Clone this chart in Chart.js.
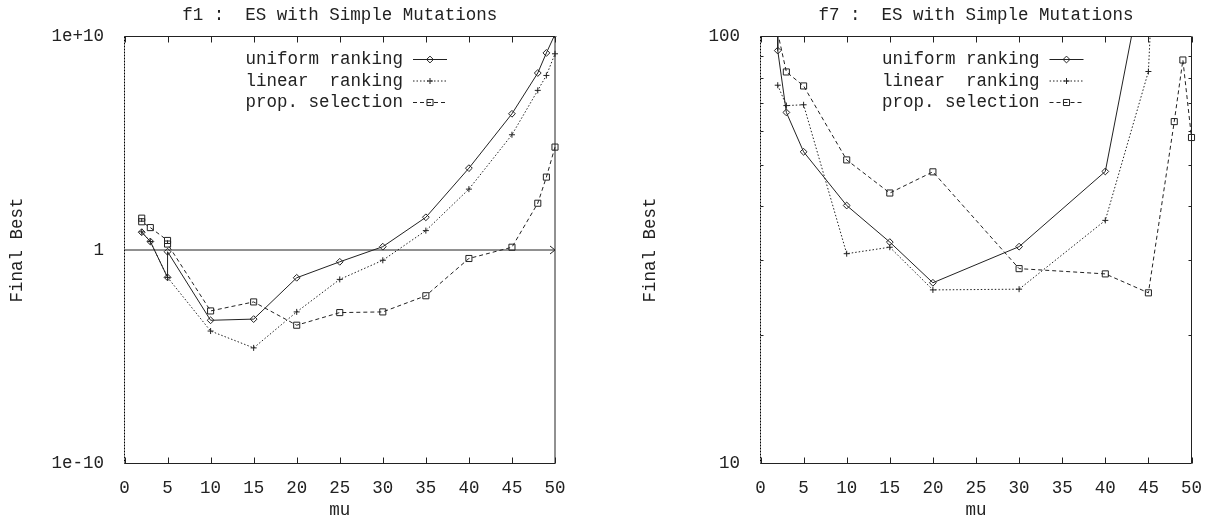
<!DOCTYPE html>
<html>
<head>
<meta charset="utf-8">
<script src="https://cdn.jsdelivr.net/npm/chart.js@4.4.0/dist/chart.umd.min.js"></script>
<style>
  html, body { margin: 0; padding: 0; background: #fff; }
  #wrap { position: relative; width: 1215px; height: 521px; }
  .panel { position: absolute; top: 0; height: 521px; }
</style>
</head>
<body>
<div id="wrap">
  <div class="panel" style="left:0;width:600px"><canvas id="f1" width="600" height="521"></canvas></div>
  <div class="panel" style="left:600px;width:615px"><canvas id="f7" width="615" height="521"></canvas></div>
</div>
<script>
// ── DATA ──
const muTicks = [0, 5, 10, 15, 20, 25, 30, 35, 40, 45, 50];
const f1Ticks = [1e-10, 1, 1e10];
const f1Ref   = [1];
const f7Ticks = [10, 100];
const f7Minor = [20, 30, 40, 50, 60, 70, 80, 90];

const seriesNames = ['uniform ranking', 'linear  ranking', 'prop. selection'];

// f1
const f1UniformMu   = [2, 3, 5, 5, 10, 15, 20, 25, 30, 35, 40, 45, 48, 49, 50];
const f1UniformBest = [6.8, 2.5, 0.052, 0.83, 5.1e-4, 5.8e-4, 0.050, 0.28, 1.43, 34, 6.8e3, 2.4e6, 1.95e8, 1.7e9, 1.26e10];
const f1LinearMu    = [2, 3, 5, 10, 15, 20, 25, 30, 35, 40, 45, 48, 49, 50];
const f1LinearBest  = [7.1, 2.5, 0.052, 1.6e-4, 2.6e-5, 1.26e-3, 0.042, 0.33, 8.1, 710, 2.5e5, 3.0e7, 1.5e8, 1.55e9];
const f1PropMu      = [2, 2, 3, 5, 5, 10, 15, 20, 25, 30, 35, 40, 45, 48, 49, 50];
const f1PropBest    = [31, 21, 11.2, 2.8, 1.9, 1.4e-3, 3.7e-3, 3.0e-4, 1.17e-3, 1.26e-3, 7.2e-3, 0.40, 1.35, 155, 2.6e3, 6.6e4];

// f7
const f7UniformMu   = [2, 2, 3, 5, 10, 15, 20, 30, 40, 45];
const f7UniformBest = [150, 92.7, 66.4, 53.7, 40.2, 33.0, 26.5, 32.2, 48.3, 160];
const f7LinearMu    = [2, 3, 5, 10, 15, 20, 30, 40, 45, 46];
const f7LinearBest  = [76.9, 68.9, 69.2, 31.0, 32.1, 25.5, 25.6, 37.1, 82.8, 220];
const f7PropMu      = [2, 3, 5, 10, 15, 20, 30, 40, 45, 48, 49, 50];
const f7PropBest    = [102, 82.6, 76.6, 51.4, 43.0, 48.2, 28.6, 27.8, 25.1, 63.2, 88.1, 58.0];

// ── STYLE ──
const INK  = '#222';
const FONT = "'Liberation Mono', 'DejaVu Sans Mono', monospace";
const FSIZE = 17.5;

const seriesStyles = [
  { pointStyle: 'rectRot', pointRadius: 3.4, borderDash: [] },
  { pointStyle: 'cross',   pointRadius: 3,   borderDash: [1.5, 2] },
  { pointStyle: 'rect',    pointRadius: 4.3, borderDash: [4, 3] },
];

Chart.defaults.font.family = FONT;
Chart.defaults.font.size = FSIZE;
Chart.defaults.color = INK;

function gnuLabel(v) {
  return (v >= 1e5 || v < 1e-4) ? v.toExponential(0) : String(v);
}

// frame, inward tics, reference arrow (gnuplot look)
const gnuFrame = {
  id: 'gnuFrame',
  afterDatasetsDraw(chart, args, opts) {
    const { ctx, chartArea: a, scales: { x, y } } = chart;
    ctx.save();
    ctx.strokeStyle = INK;
    ctx.lineWidth = 1;

    (opts.refs || []).forEach(v => {
      const py = y.getPixelForValue(v);
      ctx.beginPath(); ctx.moveTo(a.left, py); ctx.lineTo(a.right, py); ctx.stroke();
      ctx.beginPath(); ctx.moveTo(a.right - 5, py - 4); ctx.lineTo(a.right, py); ctx.lineTo(a.right - 5, py + 4); ctx.stroke();
    });

    ctx.beginPath();
    ctx.moveTo(a.left, a.top); ctx.lineTo(a.right, a.top);
    ctx.lineTo(a.right, a.bottom); ctx.lineTo(a.left, a.bottom);
    ctx.stroke();
    // x=0 zero axis drawn dotted over the left border
    ctx.strokeStyle = '#000';
    ctx.setLineDash([2, 1]);
    ctx.beginPath(); ctx.moveTo(a.left, a.top); ctx.lineTo(a.left, a.bottom); ctx.stroke();
    ctx.setLineDash([]);
    ctx.strokeStyle = INK;

    x.ticks.forEach(t => {
      const px = Math.round(x.getPixelForValue(t.value)) + 0.5;
      ctx.beginPath();
      ctx.moveTo(px, a.bottom); ctx.lineTo(px, a.bottom - 6);
      ctx.moveTo(px, a.top);    ctx.lineTo(px, a.top + 6);
      ctx.stroke();
    });

    (opts.minor || []).forEach(v => {
      const py = Math.round(y.getPixelForValue(v)) + 0.5;
      ctx.beginPath();
      ctx.moveTo(a.left, py);  ctx.lineTo(a.left + 3, py);
      ctx.moveTo(a.right, py); ctx.lineTo(a.right - 3, py);
      ctx.stroke();
    });
    ctx.restore();
  }
};

// title + key in gnuplot placement
const gnuKey = {
  id: 'gnuKey',
  afterDraw(chart, args, opts) {
    const { ctx, chartArea: a } = chart;
    ctx.save();
    ctx.font = FSIZE + 'px ' + FONT;
    ctx.fillStyle = INK;
    ctx.textBaseline = 'middle';
    ctx.textAlign = 'center';
    ctx.fillText(opts.title, (a.left + a.right) / 2, 15);

    const textRight = a.right - 152;
    chart.data.datasets.forEach((ds, i) => {
      const yy = a.top + 23 + i * 21.5;
      ctx.fillStyle = INK;
      ctx.textAlign = 'right';
      ctx.fillText(ds.label, textRight, yy);

      ctx.strokeStyle = ds.borderColor;
      ctx.lineWidth = 1;
      ctx.setLineDash(ds.borderDash);
      ctx.beginPath(); ctx.moveTo(textRight + 10, yy); ctx.lineTo(textRight + 44, yy); ctx.stroke();
      ctx.setLineDash([]);
      ctx.fillStyle = 'rgba(0,0,0,0)';
      Chart.helpers.drawPoint(ctx, { pointStyle: ds.pointStyle, radius: ds.pointRadius, borderWidth: 1, rotation: 0 }, textRight + 27, yy);
    });
    ctx.restore();
  }
};

function gnuplotPanel(id, p) {
  const datasets = p.series.map((s, i) => ({
    label: seriesNames[i],
    data: s.mu.map((m, k) => ({ x: m, y: s.best[k] })),
    showLine: true,
    borderColor: INK,
    borderWidth: 1,
    borderDash: seriesStyles[i].borderDash,
    pointStyle: seriesStyles[i].pointStyle,
    pointRadius: seriesStyles[i].pointRadius,
    pointBorderWidth: 1,
    pointBorderColor: INK,
    pointBackgroundColor: 'rgba(0,0,0,0)',
    tension: 0,
    clip: { left: 8, top: 0, right: 8, bottom: 8 },
  }));

  return new Chart(document.getElementById(id), {
    type: 'scatter',
    data: { datasets },
    plugins: [gnuFrame, gnuKey],
    options: {
      responsive: false,
      animation: false,
      layout: { padding: { top: p.top, right: p.right, left: 0, bottom: 0 } },
      plugins: {
        legend: { display: false },
        tooltip: { enabled: false },
        gnuFrame: { refs: p.refs, minor: p.minor },
        gnuKey: { title: p.title },
      },
      scales: {
        x: {
          type: 'linear', min: 0, max: 50,
          afterBuildTicks: s => { s.ticks = muTicks.map(v => ({ value: v })); },
          afterFit: s => { s.height = p.xHeight; },
          grid: { display: false }, border: { display: false },
          ticks: { padding: 6, maxRotation: 0, autoSkip: false, callback: v => String(v) },
          title: { display: true, text: 'mu', padding: { top: 0, bottom: 0 } },
        },
        y: {
          type: 'logarithmic', min: p.yTicks[0], max: p.yTicks[p.yTicks.length - 1],
          afterBuildTicks: s => { s.ticks = p.yTicks.map(v => ({ value: v })); },
          afterFit: s => { s.width = p.yWidth; },
          grid: { display: false }, border: { display: false },
          ticks: { padding: p.yPad, autoSkip: false, callback: v => gnuLabel(v) },
          title: { display: true, text: 'Final Best', padding: { top: p.titlePad, bottom: 0 } },
        },
      },
    },
  });
}

gnuplotPanel('f1', {
  title: 'f1 :  ES with Simple Mutations',
  series: [
    { mu: f1UniformMu, best: f1UniformBest },
    { mu: f1LinearMu,  best: f1LinearBest },
    { mu: f1PropMu,    best: f1PropBest },
  ],
  yTicks: f1Ticks, refs: f1Ref, minor: [],
  top: 36.5, right: 45, yWidth: 124.5, yPad: 12.5, titlePad: 7, xHeight: 57.5,
});

gnuplotPanel('f7', {
  title: 'f7 :  ES with Simple Mutations',
  series: [
    { mu: f7UniformMu, best: f7UniformBest },
    { mu: f7LinearMu,  best: f7LinearBest },
    { mu: f7PropMu,    best: f7PropBest },
  ],
  yTicks: f7Ticks, refs: [], minor: f7Minor,
  top: 36.5, right: 23.5, yWidth: 160.5, yPad: 12.5, titlePad: 40, xHeight: 57.5,
});
</script>
</body>
</html>
